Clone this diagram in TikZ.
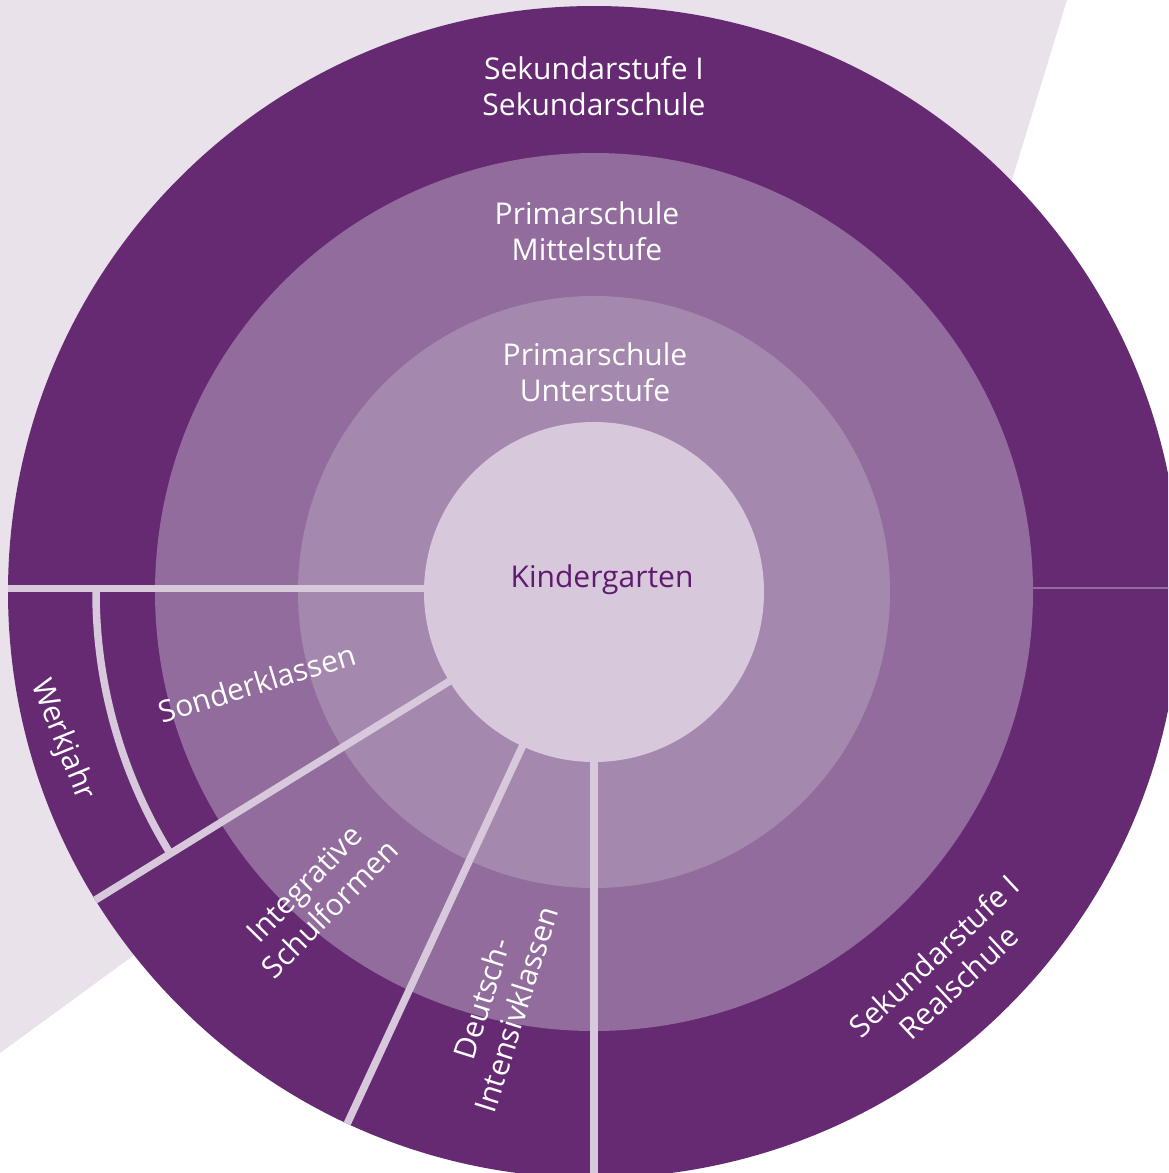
\documentclass[tikz,border=0pt]{standalone}
\usepackage{fontspec}
\setmainfont{Open Sans}
\definecolor{dk}{HTML}{662A73}
\definecolor{md}{HTML}{916C9C}
\definecolor{lt}{HTML}{A588AE}
\definecolor{kg}{HTML}{D7C8DC}
\definecolor{bgc}{HTML}{E9E2EB}
\definecolor{kgtext}{HTML}{5F196E}
\begin{document}
\begin{tikzpicture}[x=0.5pt,y=-0.5pt,
  lbl/.style={text=white,align=center,font=\fontsize{15}{18}\selectfont,inner sep=0pt},
  sepline/.style={draw=kg,line width=3.75pt}]
\useasboundingbox (0,0) rectangle (1168,1173);
\clip (0,0) rectangle (1168,1173);
\fill[bgc] (0,0) -- (1067,0) -- (959,353) -- (0,1053) -- cycle;
\coordinate (O) at (594,592);
\begin{scope}[shift={(594,592)}]
  \fill[dk] (0,0) circle[radius=586];
  \fill[md] (0,0) circle[radius=439];
  \fill[lt] (0,0) circle[radius=296];
  \begin{scope}
    \clip (0,0) circle[radius=586];
    \draw[md,line width=1pt] (438,-4) -- (620,-4);
    \draw[sepline] (-620,-3.5) -- (-160,-3.5);
    \draw[sepline] (148.3:160) -- (148.3:620);
    \draw[sepline] (114.9:160) -- (114.9:620);
    \draw[sepline] (0,160) -- (0,620);
    \draw[sepline] (180:498) arc[start angle=180,end angle=148.3,radius=498];
  \end{scope}
  \fill[kg] (0,0) circle[radius=170];
\end{scope}
\node[lbl] (sek) at (594,86) {Sekundarstufe I\\Sekundarschule};
\node[lbl] (mit) at (587,231) {Primarschule\\Mittelstufe};
\node[lbl] (unt) at (595,372) {Primarschule\\Unterstufe};
\node[lbl,text=kgtext] (kind) at (602,580) {Kindergarten};
\node[lbl,rotate=17] (sond) at (257,683) {Sonderklassen};
\node[lbl,rotate=-68] (werk) at (62,740) {Werkjahr};
\node[lbl,rotate=45.5] (integ) at (317,896) {Integrative\\Schulformen};
\node[lbl,rotate=72.5] (deut) at (499,1004) {Deutsch-\\Intensivklassen};
\node[lbl,rotate=43] (real) at (946,969) {Sekundarstufe I\\Realschule};
\end{tikzpicture}
\end{document}
